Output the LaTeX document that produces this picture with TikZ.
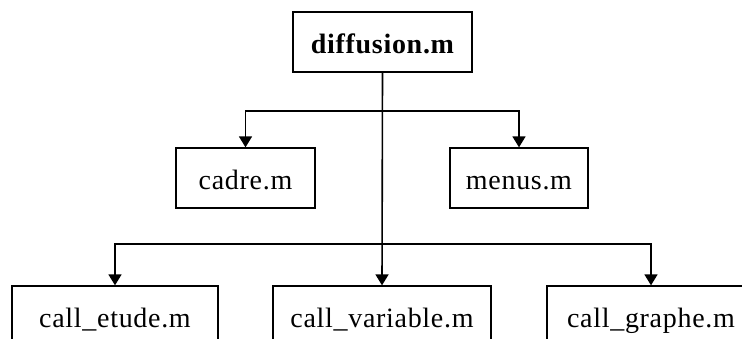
\documentclass[tikz,border=0pt]{standalone}
\usepackage{fontspec}
\setmainfont[LetterSpace=2.5]{Liberation Serif}
\usetikzlibrary{arrows.meta}
\tikzset{
  box/.style={draw, line width=1.3pt, minimum height=60pt, inner sep=0pt,
    text height=23.5pt, text depth=0pt, font=\fontsize{28}{32}\selectfont},
  arr/.style={line width=1.6pt, -{Triangle[width=13pt,length=11pt]}}
}
\begin{document}
\begin{tikzpicture}[x=1pt,y=1pt]
\useasboundingbox (0,0) rectangle (742,338);
\clip (0,0) rectangle (742,338);
\fill[white] (0,0) rectangle (742,338);
\node[box, minimum width=179pt, font=\fontsize{28}{32}\selectfont\bfseries] (diff) at (382.5,296) {diffusion.m};
\node[box, minimum width=139pt] (cadre) at (245.5,160) {cadre.m};
\node[box, minimum width=138pt] (menus) at (519,160) {menus.m};
\node[box, minimum width=206pt] (etude) at (115,22) {call\_etude.m};
\node[box, minimum width=218pt] (var) at (382,22) {call\_variable.m};
\node[box, minimum width=208pt] (graphe) at (651,22) {call\_graphe.m};
\coordinate (j1) at (diff.south |- 0,227);
\coordinate (j2) at (diff.south |- 0,94);
\draw[arr] (diff.south) -- (var.north);
\draw[arr] (j1) -| (cadre.north);
\draw[arr] (j1) -| (menus.north);
\draw[arr] (j2) -| (etude.north);
\draw[arr] (j2) -| (graphe.north);
\end{tikzpicture}
\end{document}
